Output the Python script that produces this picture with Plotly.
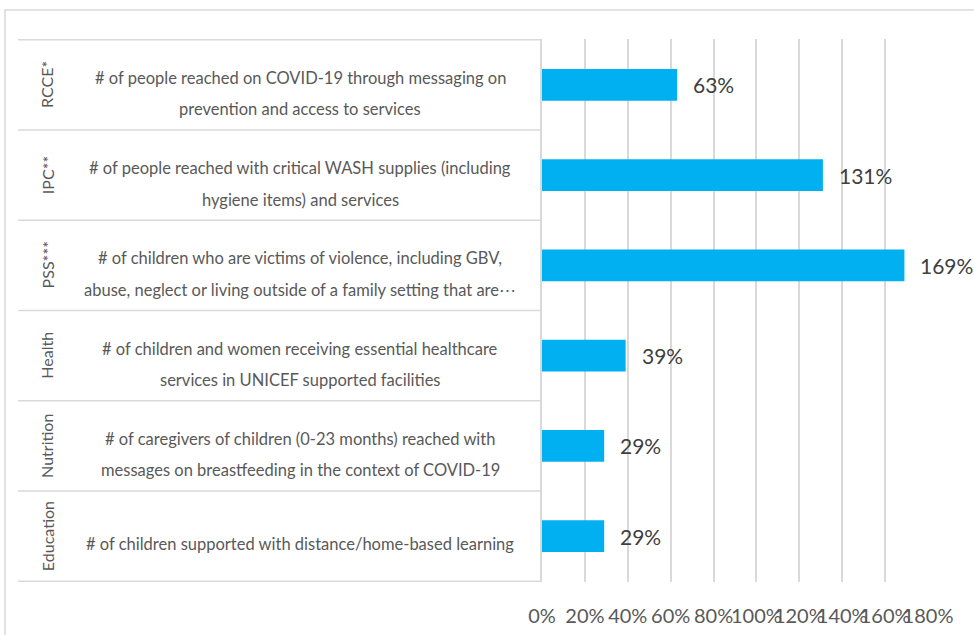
import plotly.graph_objects as go

# ---- data ----
sectors = ["RCCE*", "IPC**", "PSS***", "Health", "Nutrition", "Education"]
indicator_lines = [
    ["# of people reached on COVID-19 through messaging on", "prevention and access to services"],
    ["# of people reached with critical WASH supplies (including", "hygiene items) and services"],
    ["# of children who are victims of violence, including GBV,", "abuse, neglect or living outside of a family setting that are\u22ef"],
    ["# of children and women receiving essential healthcare", "services in UNICEF supported facilities"],
    ["# of caregivers of children (0-23 months) reached with", "messages on breastfeeding in the context of COVID-19"],
    ["# of children supported with distance/home-based learning"],
]
achievement = [0.63, 1.31, 1.69, 0.39, 0.29, 0.29]
tick_vals = [0, 0.2, 0.4, 0.6, 0.8, 1.0, 1.2, 1.4, 1.6, 1.8]
tick_text = ["0%", "20%", "40%", "60%", "80%", "100%", "120%", "140%", "160%", "180%"]

# ---- layout geometry ----
W, H = 974, 635
PL, PR, PT, PB = 542, 928, 39, 582  # plot area in pixels


def px_x(px):
    return (px - PL) / (PR - PL)


def px_y(py):
    return (PB - py) / (PB - PT)


GRID = "#d9d9d9"
FONT = "Lato"

fig = go.Figure()
fig.add_trace(go.Bar(
    x=achievement,
    y=sectors,
    orientation="h",
    marker=dict(color="#00B0F0", line=dict(width=0)),
    hoverinfo="skip",
))

annotations = []
# data labels
for s, v in zip(sectors, achievement):
    annotations.append(dict(
        x=v, y=s, xref="x", yref="y", text=f"{round(v * 100)}%",
        showarrow=False, xanchor="left", yanchor="middle", xshift=14,
        font=dict(family=FONT, size=21, color="#404040"),
    ))
# category labels (outer rotated + inner wrapped)
for s, lines in zip(sectors, indicator_lines):
    annotations.append(dict(
        x=px_x(47), y=s, xref="paper", yref="y", text=s, textangle=-90,
        showarrow=False, xanchor="center", yanchor="middle",
        font=dict(family=FONT, size=16, color="#595959"),
    ))
    if len(lines) == 1:
        shifts = [-8]
    else:
        shifts = [7, -24.5]
    for ln, sh in zip(lines, shifts):
        annotations.append(dict(
            x=px_x(300), y=s, xref="paper", yref="y", text=ln,
            showarrow=False, xanchor="center", yanchor="middle", yshift=sh,
            font=dict(family=FONT, size=16.5, color="#595959"),
        ))

shapes = []
# category separator lines (table-like multi-level axis)
for i in range(len(sectors) + 1):
    shapes.append(dict(
        type="line", xref="paper", yref="y",
        x0=px_x(18), x1=0, y0=i - 0.5, y1=i - 0.5,
        line=dict(color=GRID, width=1.5),
    ))
# outer chart border (extends past the visible window)
shapes.append(dict(
    type="rect", xref="paper", yref="paper",
    x0=px_x(5), x1=px_x(W + 400), y0=px_y(H + 20), y1=px_y(10),
    line=dict(color=GRID, width=1.5), fillcolor="rgba(0,0,0,0)", layer="below",
))

fig.update_layout(
    width=W, height=H,
    margin=dict(l=PL, r=W - PR, t=PT, b=H - PB, pad=0, autoexpand=False),
    paper_bgcolor="white", plot_bgcolor="white",
    showlegend=False,
    bargap=0.646,
    annotations=annotations,
    shapes=shapes,
    font=dict(family=FONT, color="#595959"),
)
fig.update_xaxes(
    range=[0, 1.8],
    tickvals=tick_vals, ticktext=tick_text,
    tickangle=0,
    automargin=False,
    showgrid=True, gridcolor=GRID, gridwidth=1.5,
    zeroline=False, showline=False, ticks="",
    ticklabelstandoff=20,
    tickfont=dict(family=FONT, size=20, color="#595959"),
    fixedrange=True,
)
fig.update_yaxes(
    type="category",
    autorange="reversed",
    automargin=False,
    showticklabels=False, ticks="",
    showgrid=False, zeroline=False,
    showline=True, linecolor=GRID, linewidth=1.5,
    fixedrange=True,
)

fig.write_html(
    "out.html",
    config={"displayModeBar": False},
    post_script="document.body.style.margin='0';document.body.style.overflow='hidden';",
)
